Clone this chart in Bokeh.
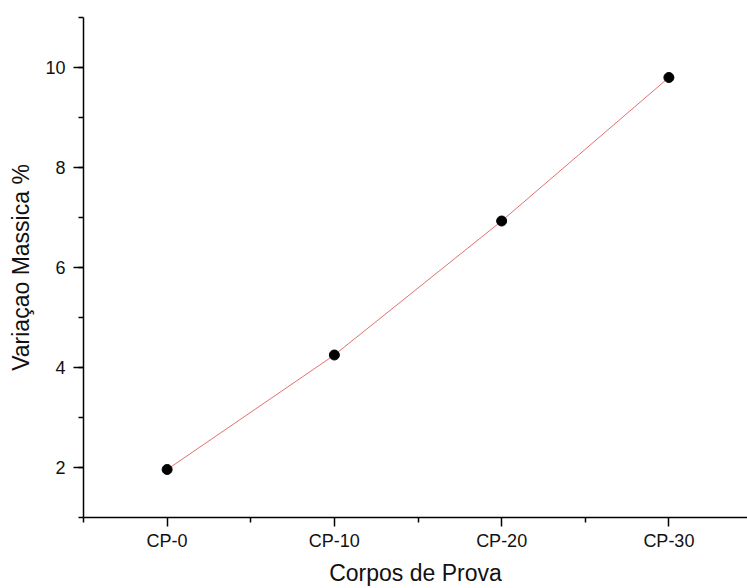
from bokeh.plotting import figure
from bokeh.models import FixedTicker, Range1d, SingleIntervalTicker
from bokeh.embed import file_html
from bokeh.resources import INLINE

categories = ["CP-0", "CP-10", "CP-20", "CP-30"]
positions = [0, 1, 2, 3]
variacao = [1.96, 4.25, 6.93, 9.80]
x_title = "Corpos de Prova"
y_title = "Variaçao Massica %"

p = figure(width=747, height=588, output_backend="svg", toolbar_location=None,
           x_range=Range1d(-0.5, 3.47), y_range=Range1d(1, 11),
           min_border_left=83, min_border_right=0, min_border_top=17, min_border_bottom=71)
p.outline_line_color = None
p.xgrid.visible = False
p.ygrid.visible = False
p.background_fill_color = "white"
p.border_fill_color = "white"

p.line(positions, variacao, line_color="#e37070", line_width=1)
p.scatter(positions, variacao, size=10, fill_color="black", line_color="black")

font = "Liberation Sans"
for ax in (p.xaxis[0], p.yaxis[0]):
    ax.axis_line_width = 1.5
    ax.axis_line_color = "black"
    ax.major_tick_line_width = 1.5
    ax.minor_tick_line_width = 1.5
    ax.major_tick_line_color = "black"
    ax.minor_tick_line_color = "black"
    ax.major_tick_in = 0
    ax.minor_tick_in = 0
    ax.major_label_text_font = font
    ax.major_label_text_font_size = "18px"
    ax.major_label_text_color = "#111111"
    ax.axis_label_text_font = font
    ax.axis_label_text_font_size = "23px"
    ax.axis_label_text_font_style = "normal"
    ax.axis_label_text_color = "#111111"

p.xaxis.ticker = FixedTicker(ticks=positions, minor_ticks=[-0.5, 0.5, 1.5, 2.5])
p.xaxis.major_label_overrides = {pos: c for pos, c in zip(positions, categories)}
p.xaxis.major_tick_out = 9
p.xaxis.minor_tick_out = 5
p.xaxis.major_label_standoff = 4
p.xaxis.axis_label = x_title
p.xaxis.axis_label_standoff = 6

p.yaxis.ticker = SingleIntervalTicker(interval=2, num_minor_ticks=2)
p.yaxis.major_tick_out = 10
p.yaxis.minor_tick_out = 5
p.yaxis.major_label_standoff = 8
p.yaxis.axis_label = y_title
p.yaxis.axis_label_standoff = 8

open("out.html", "w").write(file_html(p, INLINE))
